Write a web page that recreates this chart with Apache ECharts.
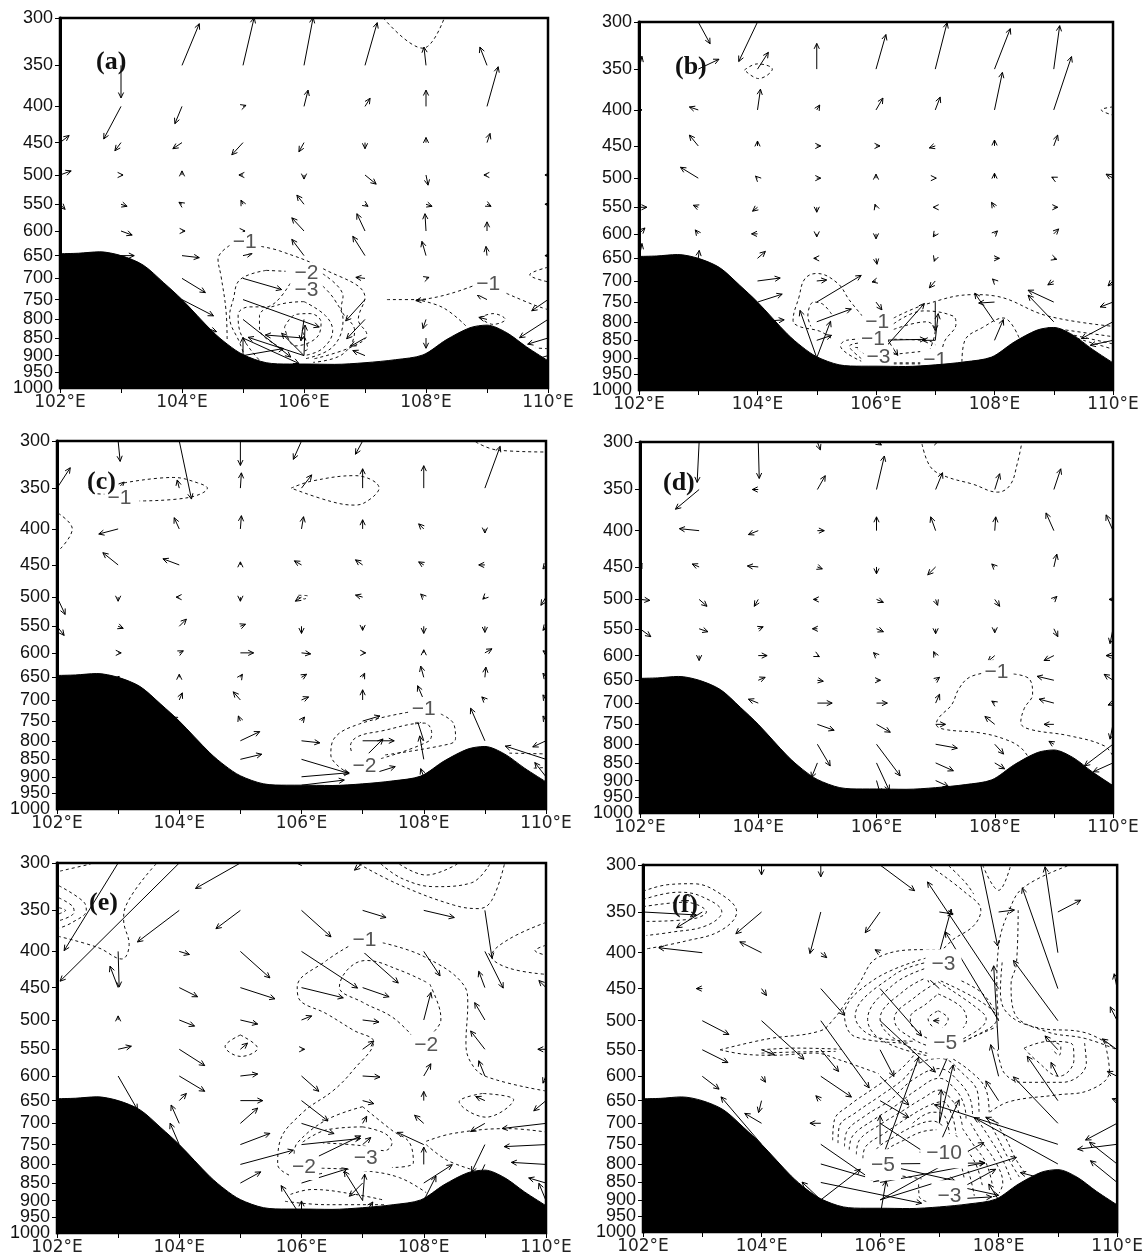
<!DOCTYPE html>
<html><head><meta charset="utf-8">
<style>html,body{margin:0;padding:0;background:#fff}#c{width:1146px;height:1256px}</style>
<script src="https://cdn.jsdelivr.net/npm/echarts@6/dist/echarts.min.js"></script>
</head><body><div id="c"></div>
<script>
const pressureTicks=[300,350,400,450,500,550,600,650,700,750,800,850,900,950,1000];
const bottomPressureLabel=[1000];
const lonLabels=[102,104,106,108,110];
const panelTags=['(a)','(b)','(c)','(d)','(e)','(f)'];
const terrain=[[102,646],[102.3,645],[102.65,642],[103,650],[103.36,670],[103.7,710],[104,750],[104.5,832],[104.75,868],[105,897],[105.38,921],[105.76,925],[106,925],[106.5,926],[107,921],[107.5,912],[107.95,898],[108.33,855],[108.72,822],[109,815],[109.32,835],[109.65,875],[110,915]];

const windA=[[102,450,9,7],[102,500,11,4],[102,550,5,-5],
[103,350,0,-32],[103,400,-17,-32],[103,450,-6,-8],[103,500,2,0],[103,550,6,-2],[103,600,11,-4],[103,650,13,0],
[104,350,17,41],[104,400,-7,-17],[104,450,-9,-6],[104,500,0,4],[104,550,-3,2],[104,600,3,0],[104,650,17,-2],[104,700,23,-14],[104,750,31,-16],[104,800,34,-12],
[105,350,11,47],[105,400,3,1],[105,450,-11,-12],[105,500,-4,0],[105,550,-2,4],[105,600,2,0],[105,650,9,2],[105,700,38,-11],[105,750,75,-27],[105,800,47,-37],[105,850,55,-25],[105,900,40,7],[105,900,0,18],
[106,350,9,47],[106,400,4,16],[106,450,-5,-9],[106,500,0,-4],[106,550,-7,9],[106,600,-12,13],[106,650,-12,16],[106,700,-3,1],[106,800,-3,-21],[106,850,-38,3],[106,900,-55,18],[106,900,-22,22],[106,900,1,30],
[107,350,12,42],[107,400,5,8],[107,450,0,-6],[107,500,11,-9],[107,550,3,-2],[107,600,-8,17],[107,650,-12,19],[107,700,-9,1],[107,750,-19,-21],[107,800,-18,-19],[107,850,-14,-8],[107,900,-12,5],
[108,350,-2,18],[108,400,0,16],[108,450,0,5],[108,500,2,-10],[108,550,6,-2],[108,600,-1,17],[108,650,-4,14],[108,700,3,1],[108,750,-10,-1],[108,800,-3,-9],[108,850,0,-10],
[109,350,-7,18],[109,400,11,39],[109,450,3,9],[109,500,-3,0],[109,550,4,-2],[109,600,0,9],[109,650,-1,9],[109,700,0,1],[109,750,-10,5],[109,800,-8,2],
[110,500,-3,0],[110,550,-3,0],[110,650,-3,0],[110,750,-16,-11],[110,800,-28,-18],[110,850,-20,-6],[110,900,-20,-6]];
const contoursA=[
[[104.78,629],[104.59,657],[104.64,695],[104.72,775],[104.74,855]],
[[105.3,631],[105.6,640],[106.31,678],[107,745],[106.89,800],[107.03,840],[106.78,875],[106.15,910]],
[[105.38,682],[104.95,703],[104.84,750],[104.78,792],[104.95,865],[105.03,902]],
[[105.38,682],[105.7,684]],
[[106.31,690],[106.64,742],[106.61,770],[106.83,830],[106.64,895],[106.15,920]],
[[105.77,712],[105.38,768],[105.1,768],[104.92,788],[104.95,832],[105.33,925]],
[[106.31,718],[106.5,750],[106.64,800],[106.47,875],[106,910]],
[[106,755],[105.6,762],[105.27,790],[105.27,825],[105.55,870]],
[[106,755],[106.35,790],[106.47,830],[106.3,880],[106,900]],
[[105.68,820],[105.87,787],[106.1,785],[106.28,808],[106.2,850],[105.85,872],[105.68,820]],
[[105.98,834],[106.06,880],[105.96,888]],
[[107.36,750],[107.84,750],[108.83,714]],
[[109.32,735],[109.75,762],[110,775]],
[[107.84,750],[108.28,770],[108.66,818]],
[[108.88,795],[109.1,785],[109.3,800],[109.1,813],[108.88,795]],
[[110,675],[109.7,692],[110,708]],
[[110,880],[109.8,878]],
[[107.3,300],[107.95,331],[108.3,300]]];
const labelsA=[[105.03,623,'−1'],[106.04,688,'−2'],[106.04,728,'−3'],[109.02,714,'−1']];

const windB=[[102,350,3,13],[102,400,3,0],[102,550,8,0],[102,600,6,6],[102,650,3,15],
[103,300,12,-22],[103,350,21,10],[103,400,-9,3],[103,450,-9,11],[103,500,-18,11],[103,550,-5,2],[103,600,-3,4],[103,650,1,8],
[104,300,-19,-40],[104,350,11,17],[104,400,3,21],[104,450,0,5],[104,500,-2,2],[104,550,-5,-4],[104,600,-6,0],[104,650,8,7],[104,700,23,3],[104,750,25,8],[104,800,27,2],
[105,350,0,26],[105,400,3,5],[105,450,4,0],[105,500,4,0],[105,550,0,-5],[105,600,0,-3],[105,650,-3,0],[105,700,10,1],[105,750,45,27],[105,800,35,13],[105,850,15,5],[105,900,-17,48],[105,900,14,37],
[106,350,10,35],[106,400,7,12],[106,450,4,0],[106,500,0,4],[106,550,-1,3],[106,600,0,-5],[106,650,1,-6],[106,700,-4,-1],[106,750,6,-8],[106,800,22,-34],[106,850,50,1],[106,900,49,55],
[107,350,12,47],[107,400,5,13],[107,450,-6,-2],[107,500,1,0],[107,550,-2,0],[107,600,-2,-3],[107,650,-1,-3],[107,700,-6,-7],[107,750,0,-29],[107,850,-13,0],[107,850,3,27],
[108,350,16,41],[108,400,8,38],[108,450,0,6],[108,500,0,5],[108,550,-3,5],[108,600,3,3],[108,650,5,0],[108,700,-2,2],[108,750,-16,-1],[108,800,-20,29],[108,850,9,21],
[109,350,6,44],[109,400,18,54],[109,450,4,11],[109,500,-2,1],[109,550,4,0],[109,600,5,5],[109,650,3,-1],[109,700,-6,-4],[109,750,-26,12],[109,800,-26,27],
[110,500,-7,4],[110,700,-5,-5],[110,750,-13,-5],[110,800,-32,-17],[110,850,-23,-5]];
const contoursB=[
[[105.77,785],[105.55,745],[105.35,705],[105,683],[104.8,695],[104.7,738],[104.6,797],[104.7,812],[105.05,825],[105.25,845]],
[[105.25,780],[105.1,755],[104.95,750],[104.85,785],[104.9,812]],
[[106.3,790],[106.85,755],[107.65,732],[108,735],[108.9,785],[110,812]],
[[108.9,815],[110,840]],[[108.95,822],[110,860]],[[109.4,845],[110,875]],
[[106.3,805],[106.8,772],[107.3,785],[107.35,805],[107.15,855],[107.1,905]],
[[106.3,820],[106.85,800],[107,822],[106.9,880]],
[[105.95,845],[105.5,850],[105.4,865],[105.75,910]],
[[105.9,855],[105.55,867],[105.75,902]],
[[106,875],[105.65,870],[105.85,895]],
[[106.3,847],[106.9,852],[107,862]],
[[106.3,890],[106.85,880]],
[[106.3,915],[106.85,915]],[[106.3,918],[106.85,918]],
[[107.45,912],[107.5,850],[107.8,815],[108.15,790],[108.42,845]],
[[103.78,351],[104,344],[104.25,350],[104.02,361],[103.78,351]],
[[110,396],[109.8,400],[110,407]]];
const labelsB=[[106.02,800,'−1'],[105.95,848,'−1'],[106.04,898,'−3'],[107,908,'−1']];

const windC=[[102,350,13,20],[102,500,8,-17],[102,550,7,-9],
[103,300,2,-20],[103,350,6,6],[103,400,-19,-5],[103,450,-15,12],[103,500,0,-4],[103,550,5,-2],[103,600,3,0],[103,650,1,1],
[104,300,12,-57],[104,350,-2,8],[104,400,-5,11],[104,450,-16,6],[104,500,-3,0],[104,550,7,7],[104,600,4,2],[104,650,0,3],[104,700,3,7],[104,750,-7,4],
[105,300,0,-24],[105,350,1,15],[105,400,1,13],[105,450,0,3],[105,500,0,-4],[105,550,5,2],[105,600,13,0],[105,650,2,3],[105,700,-7,8],[105,750,-2,5],[105,800,19,9],[105,850,21,5],
[106,300,-8,-18],[106,350,10,13],[106,400,2,12],[106,450,-7,4],[106,500,-6,-4],[106,550,0,-7],[106,600,9,-1],[106,650,5,3],[106,700,7,3],[106,750,3,4],[106,800,18,-2],[106,850,47,-14],[106,900,47,4],[106,925,42,5],
[107,300,-7,-13],[107,350,0,19],[107,400,0,9],[107,450,-7,5],[107,500,-7,2],[107,550,0,-4],[107,600,3,0],[107,650,2,4],[107,700,0,10],[107,750,17,5],[107,800,31,0],[107,850,20,20],[107,900,32,10],
[108,350,0,22],[108,400,-5,5],[108,450,-5,3],[108,500,-3,3],[108,550,0,-7],[108,600,0,3],[108,650,-3,11],[108,700,-6,14],[108,800,-7,22],[108,850,-4,23],[108,900,-3,8],
[109,350,15,41],[109,400,0,-4],[109,450,-6,0],[109,500,-2,-2],[109,550,0,-6],[109,600,7,4],[109,650,1,10],[109,700,-3,3],[109,800,-14,32],
[110,450,-3,-4],[110,500,-5,-8],[110,550,-3,-4],[110,600,-3,2],[110,650,-3,4],[110,700,-3,5],[110,750,-3,5],[110,800,-13,-6],[110,850,-40,13],[110,900,-11,14]];
const contoursC=[
[[103.1,344],[103.9,338],[104.3,344],[104.46,350],[104.15,361],[103.35,365]],
[[102.52,349],[102.6,356],[102.8,357]],
[[105.83,350],[106.17,342],[106.88,336],[107.27,350],[107.12,363],[106.88,370],[106.5,366],[105.83,350]],
[[102.02,380],[102.25,400],[102.02,430]],
[[108.85,301],[109.2,309],[110,311]],
[[105.95,497],[106.1,498],[106.05,503],[105.95,500]],
[[106.77,890],[106.48,838],[106.53,795],[106.95,757],[107.77,728]],
[[108.28,733],[108.49,757],[108.52,794],[108.43,808],[107.36,838]],
[[107.3,848],[108.07,802],[108.13,780],[108.01,755],[107.3,775],[106.91,790],[106.8,815],[106.83,835]],
[[109.4,833],[110,835]],[[109.8,875],[110,873]]];
const labelsC=[[103.02,362,'−1'],[108,722,'−1'],[107.03,868,'−2']];

const windD=[[102,450,2,4],[102,500,10,-1],[102,550,11,-8],
[103,300,-2,-41],[103,350,-24,-20],[103,400,-20,2],[103,450,-7,3],[103,500,8,-7],[103,550,9,-3],[103,600,0,-5],
[104,300,1,-37],[104,350,-6,0],[104,400,-10,-4],[104,450,-11,1],[104,500,-4,-7],[104,550,5,2],[104,600,9,0],[104,650,7,3],[104,700,-10,4],
[105,300,3,-8],[105,350,8,14],[105,400,7,0],[105,450,5,-2],[105,500,-4,0],[105,550,-5,0],[105,600,2,-1],[105,650,6,-1],[105,700,15,0],[105,750,17,-6],[105,800,13,-22],[105,850,-6,-15],
[106,300,5,-3],[106,350,8,34],[106,400,0,14],[106,450,0,-7],[106,500,7,-3],[106,550,7,-3],[106,600,-3,3],[106,650,4,0],[106,700,11,0],[106,750,14,-8],[106,800,24,-32],[106,850,13,-28],[106,900,4,-14],
[107,300,3,1],[107,350,7,17],[107,400,-5,14],[107,450,-8,-8],[107,500,2,-6],[107,550,0,-5],[107,600,-2,4],[107,650,4,3],[107,700,4,9],[107,750,10,0],[107,800,22,-4],[107,850,18,-8],[107,900,13,-6],
[108,350,5,16],[108,400,1,14],[108,450,-3,3],[108,500,5,-7],[108,550,0,-4],[108,600,-7,-6],[108,650,-3,1],[108,700,-3,2],[108,750,-10,8],[108,800,9,-10],[108,850,10,-6],
[109,350,7,21],[109,400,-8,18],[109,450,3,13],[109,500,3,3],[109,550,4,-8],[109,600,-10,-5],[109,650,-17,4],[109,700,-15,4],[109,750,-10,0],[109,800,-5,3],
[110,400,-7,16],[110,500,-4,0],[110,550,-3,-15],[110,600,-7,0],[110,650,-9,6],[110,700,-5,-2],[110,750,-3,-15],[110,800,-29,-22],[110,850,-20,-9]];
const contoursD=[
[[106.77,302],[106.91,325],[107.15,335],[107.63,344],[108.05,353],[108.26,345],[108.38,322],[108.46,300]],
[[107.87,634],[107.57,644],[107.39,669],[107.27,704],[107.06,733],[107.01,750],[107.14,762],[107.75,771],[108.17,787],[108.44,809],[108.59,840]],
[[108.32,637],[108.59,648],[108.64,680],[108.5,712],[108.44,746],[108.59,762],[109.25,778],[109.85,804],[110,832]]];
const labelsD=[[108.03,634,'−1']];

const windE=[[103,300,-53,-86],[103,400,1,-35],[103,450,-8,21],[103,500,0,4],[103,550,13,3],[103,600,19,-33],
[104,300,-117,-116],[104,350,-41,-31],[104,400,10,-3],[104,450,18,-9],[104,500,15,-6],[104,550,25,-16],[104,600,25,-15],[104,650,7,7],[104,700,-8,18],[104,750,-9,21],
[105,300,-44,-25],[105,350,-24,-18],[105,400,29,-26],[105,450,34,-11],[105,500,17,-4],[105,550,7,6],[105,600,17,2],[105,650,22,0],[105,700,17,15],[105,750,29,11],[105,800,52,14],[105,850,20,11],
[106,300,-5,0],[106,350,29,-26],[106,400,55,-36],[106,450,41,-10],[106,500,10,4],[106,550,3,0],[106,600,17,-15],[106,650,26,-20],[106,700,32,-10],[106,750,58,6],[106,800,58,28],[106,850,45,14],[106,950,-20,31],[106,950,0,16],
[107,300,-8,-7],[107,350,23,-7],[107,400,35,-31],[107,450,26,-9],[107,500,16,-2],[107,550,11,8],[107,600,17,-1],[107,650,11,-3],[107,700,4,7],[107,750,8,7],[107,850,-13,-13],[107,900,-18,29],[107,900,2,26],[107,950,10,15],
[108,350,30,-7],[108,400,16,-24],[108,500,7,27],[108,600,7,12],[108,650,0,9],[108,700,-9,8],[108,750,-26,12],[108,800,0,17],[108,850,28,18],[108,900,12,24],
[109,350,7,-47],[109,400,18,-36],[109,450,-6,16],[109,500,-10,17],[109,550,-14,18],[109,600,-6,15],[109,650,-9,4],[109,700,-14,-8],[109,750,-13,-27],[109,800,-6,-13],
[110,450,-7,7],[110,550,-8,0],[110,600,-3,-7],[110,650,-12,-10],[110,700,-43,-5],[110,750,-41,-2],[110,800,-34,2],[110,850,-17,5],[110,900,-7,17]];
const contoursE=[
[[102.05,308],[102.55,301]],
[[102.03,323],[102.43,340],[102.48,350],[102.25,364],[102.03,371]],
[[102.03,336],[102.25,345],[102.28,352],[102.03,362]],
[[102.03,347],[102.14,350],[102.03,354]],
[[103.62,301],[103.12,346],[103.09,361],[103.18,391],[103.06,410],[102.67,395],[102.03,381]],
[[106.94,301],[107.6,322],[108.49,344],[108.9,348],[109.11,339],[109.32,301]],
[[107.3,301],[107.66,316],[108.19,324],[108.78,320],[109.08,301]],
[[107.6,301],[108.04,312],[108.55,301]],
[[110,364],[109.38,385],[109.11,406],[109.38,422],[110,431]],
[[110,392],[109.82,399],[110,405]],
[[106.85,390],[106.41,412],[105.93,449],[105.96,467],[106.41,490],[106.85,517],[107.18,537],[106.85,588],[106.53,628],[106,678],[105.64,746],[105.61,800],[105.99,841]],
[[107.33,389],[108.01,407],[108.66,447],[108.72,474],[108.69,540],[108.78,576],[109.02,601],[110,630]],
[[108.04,442],[107.6,425],[107.06,412],[106.77,423],[106.62,449],[107,472],[107.48,495],[107.8,525]],
[[108.1,445],[108.25,479],[108.28,500],[108.16,520]],
[[105,525],[104.75,545],[105.01,563],[105.28,548],[105,525]],
[[108.96,635],[108.58,652],[109.02,686],[109.47,648],[108.96,635]],
[[107,663],[106.41,692],[105.93,746],[105.88,773]],
[[107,663],[107.48,716],[107.77,746],[107.83,796],[107.48,808]],
[[107,708],[106.41,715],[106,746]],
[[107,708],[107.36,723],[107.48,746],[107.36,765],[107,753],[106.35,746]],
[[106.33,810],[107,816],[107.6,835],[108.04,877]],
[[106,836],[106.35,823]],
[[105.82,882],[106.17,868],[106.88,882],[107.36,899]],
[[105.73,902],[106.41,912],[107.36,912]],
[[108.04,742],[108.49,723],[109.38,712],[110,720]],
[[108.04,750],[108.37,788],[108.78,813]]];
const labelsE=[[107.03,386,'−1'],[108.04,543,'−2'],[106.04,808,'−2'],[107.05,785,'−3']];

const windF=[[102,350,54,-3],
[103,350,-26,-16],[103,400,-44,5],[103,450,-6,0],[103,500,27,-14],[103,550,26,-13],[103,600,17,-13],
[104,300,0,-10],[104,350,-26,-22],[104,400,-22,11],[104,450,5,-7],[104,500,43,-39],[104,550,13,-5],[104,600,4,-6],[104,650,-3,-12],[104,700,-17,10],[104,750,-41,48],
[105,300,0,-12],[105,350,-11,-42],[105,400,6,-5],[105,450,24,-27],[105,500,49,-68],[105,550,18,-22],[105,600,31,-21],[105,650,-5,5],[105,700,-11,0],[105,750,52,-36],[105,800,59,-17],[105,850,102,-21],[105,900,40,31],[105,900,-19,18],
[106,300,35,-26],[106,350,-15,-21],[106,400,-5,3],[106,450,42,-48],[106,500,56,-52],[106,550,14,-27],[106,600,29,-29],[106,650,29,-17],[106,700,46,-30],[106,750,0,29],[106,800,39,108],[106,800,76,-17],[106,800,106,1],[106,850,106,20],[106,900,138,43],[106,900,105,58],[106,950,6,36],
[107,350,14,-2],[107,400,12,44],[107,450,-13,12],[107,500,-6,0],[107,600,13,30],[107,700,14,59],[107,700,2,34],[107,750,20,45],[107,900,57,31],[107,900,53,3],[107,850,60,-13],
[107.7,300,17,-82],[108,350,16,2],[108,450,-72,108],[108,500,-54,90],[108,550,-5,85],[108,600,-8,32],[108,650,-13,20],[108,700,-13,6],[108,900,-10,16],
[109,350,23,12],[109,400,-13,87],[109,450,-36,102],[109,500,-45,61],[109,550,-13,14],[109,600,-7,14],[109,650,-31,45],[109,700,-45,47],[109,750,-125,40],[109,800,-85,47],[109,850,-38,10],
[110,450,-3,15],[110,500,-7,14],[110,550,-15,11],[110,600,-10,5],[110,650,-5,2],[110,700,-32,-17],[110,750,-40,-5],[110,800,-28,22],[110,850,-27,22]];
const contoursF=[
[[102,327],[102.42,320],[102.84,319],[103.31,330],[103.58,350],[103.31,372],[102.72,385],[102.06,395]],
[[102,336],[102.6,328],[103,333],[103.33,350],[103.07,366],[102.48,374],[102.06,378]],
[[102,344],[102.72,339],[103.07,350],[102.84,358],[102.06,361]],
[[103.3,550],[104.09,531],[104.99,517],[105.22,497],[105.37,478],[105.64,443],[105.97,406],[106.78,396],[106.99,396],[107.25,382],[107.58,366],[107.7,348],[107.43,328],[106.84,301]],
[[107.16,301],[107.43,317],[107.58,330]],
[[107.73,300],[108,326],[108.2,301]],
[[109.16,301],[108.42,323],[108.18,348],[108,392],[107.97,446],[108,500]],
[[108.33,348],[108.3,415],[108.21,443],[108.27,488],[108.8,518],[109.46,530],[110,550]],
[[108.06,413],[108.03,453],[108.15,488],[108.63,511],[109.46,520],[109.94,546]],
[[106.98,484],[107.15,497],[106.98,515],[106.81,497],[106.98,484]],
[[106.98,458],[107.37,478],[107.46,499],[107.25,524],[106.98,534],[106.54,509],[106.51,495],[106.78,473],[106.98,458]],
[[106.98,440],[107.61,478],[107.79,497],[107.43,529],[106.98,545],[106.36,518],[106.24,497],[106.6,462],[106.98,440]],
[[106.84,432],[107.67,468],[107.97,496],[107.43,535],[106.98,558],[106.24,530],[106,497],[106.42,452],[106.84,432]],
[[106.81,420],[107.67,453],[107.97,490]],
[[107.4,535],[107.97,510]],
[[106.98,565],[106.06,535],[105.79,498],[106.24,443],[106.81,420]],
[[106.84,412],[106.24,430],[105.58,493],[105.88,526],[106.6,535]],
[[106.78,407],[105.88,438],[105.4,491],[105.58,527],[106.48,538]],
[[103.3,550],[103.7,558],[104.2,560],[104.9,556],[105.3,568],[105.98,595]],
[[104,550],[104.6,547],[105.34,549]],
[[104,556],[104.6,554],[105.25,553]],
[[108.43,547],[108.85,535],[109.25,541],[109.27,569],[109.02,600],[108.63,569],[108.43,547]],
[[108.88,535],[109.05,544],[109.02,560],[108.9,549]],
[[109.45,538],[109.48,575],[109.08,612],[108.4,612],[108.12,597],[108.01,568],[107.98,550]],
[[109.78,531],[109.87,590],[109.53,628],[108.97,638],[108.18,652],[107.84,676]],
[[105.2,740],[105.23,692],[105.48,660],[105.88,625],[106.33,588],[106.6,556]],
[[107.06,556],[107.5,588],[107.79,628],[107.84,675]],
[[105.29,747],[105.31,708],[105.6,675],[106,640],[106.38,607],[106.66,575],[107.03,566],[107.39,594],[107.65,635],[107.67,679]],
[[105.4,755],[105.43,722],[105.76,682],[106.16,650],[106.55,607],[107,585],[107.34,612],[107.53,650],[107.56,682]],
[[105.48,763],[105.54,729],[105.88,693],[106.27,660],[106.61,628],[107,604],[107.28,628],[107.42,660],[107.45,689]],
[[105.6,775],[105.65,740],[106,703],[106.38,672],[106.72,645],[107,628],[107.22,650],[107.34,679],[107.39,708]],
[[105.71,785],[105.76,755],[106.1,721],[106.49,685],[106.83,660],[107.06,652],[107.22,685],[107.28,725]],
[[106.55,700],[106.89,675],[107.08,682],[107.17,725]],
[[105.85,790],[105.95,760],[106.2,735],[106.6,705],[106.9,695],[107.05,705]],
[[106,790],[106.1,765],[106.4,740],[106.7,720],[106.95,715]],
[[107.79,685],[107.98,733],[108.18,790],[108.35,835]],
[[107.9,690],[108.1,730],[108.3,790],[108.45,825]],
[[107.65,693],[107.84,733],[108.07,790],[108.21,843]],
[[107.53,700],[107.7,740],[107.96,798],[108.07,852],[108.01,880]],
[[107.39,712],[107.56,748],[107.79,798],[107.9,862]],
[[107.28,728],[107.42,755],[107.62,802],[107.73,862]],
[[107.15,745],[107.33,785],[107.42,840]],
[[107.05,735],[107.25,770],[107.45,810]],
[[107.39,790],[107.5,825],[107.59,888]],
[[106.65,855],[106.66,890],[106.78,905]],
[[106.28,830],[106.7,840]]];
const labelsF=[[107.07,416,'−3'],[107.1,538,'−5'],[106.05,802,'−5'],[107.08,771,'−10'],[107.17,888,'−3']];

const panels=[
 {w:windA,c:contoursA,l:labelsA,box:[60,18,488,370],tag:[96,49],pad:[0,3]},
 {w:windB,c:contoursB,l:labelsB,box:[639,22,474,368],tag:[675,54],pad:[1,3]},
 {w:windC,c:contoursC,l:labelsC,box:[57,441,489,368],tag:[87,469],pad:[2,3]},
 {w:windD,c:contoursD,l:labelsD,box:[640,442,473,371],tag:[663,470],pad:[2,3]},
 {w:windE,c:contoursE,l:labelsE,box:[57,863,489,372],tag:[89,890],pad:[2,3]},
 {w:windF,c:contoursF,l:labelsF,box:[643,865,475,367],tag:[672,892],pad:[5,6]}];

const fnt='"Liberation Sans",Arial,sans-serif';
function arrowItem(params,api){
  const s=api.coord([api.value(0),api.value(1)]);
  const k=api.size([1,0])[0]/60;
  const e=[s[0]+api.value(2)*k,s[1]-api.value(3)*k];
  const a=Math.atan2(e[1]-s[1],e[0]-s[0]),h=6,w=0.45;
  return {type:'group',children:[
    {type:'line',shape:{x1:s[0],y1:s[1],x2:e[0],y2:e[1]},style:{stroke:'#000',lineWidth:1}},
    {type:'polyline',shape:{points:[[e[0]-h*Math.cos(a-w),e[1]-h*Math.sin(a-w)],e,[e[0]-h*Math.cos(a+w),e[1]-h*Math.sin(a+w)]]},style:{stroke:'#000',lineWidth:1,fill:'none'}}
  ]};
}
const grid=[],xAxis=[],yAxis=[],series=[],graphic=[];
panels.forEach((p,i)=>{
  const yi=2*i;
  grid.push({left:p.box[0],top:p.box[1],width:p.box[2],height:p.box[3],show:true,borderColor:'#000',borderWidth:2.5,backgroundColor:'#fff'});
  xAxis.push({gridIndex:i,type:'value',min:102,max:110,interval:1,splitLine:{show:false},
    axisLine:{show:true,onZero:false,lineStyle:{color:'#000',width:2}},
    axisTick:{show:true,length:5,inside:false,lineStyle:{color:'#000',width:1}},
    axisLabel:{show:true,margin:6,color:'#222',fontFamily:'"DejaVu Sans",sans-serif',fontSize:17,showMinLabel:true,showMaxLabel:true,hideOverlap:false,
      formatter:v=>lonLabels.includes(v)?v+'°E':''}});
  yAxis.push({gridIndex:i,type:'log',logBase:10,min:300,max:1000,inverse:true,splitLine:{show:false},minorTick:{show:false},
    axisLine:{show:true,onZero:false,lineStyle:{color:'#000',width:3}},
    axisTick:{show:true,length:5,customValues:pressureTicks,lineStyle:{color:'#000',width:1}},
    axisLabel:{show:true,margin:7,color:'#111',fontFamily:fnt,fontSize:18,customValues:pressureTicks,hideOverlap:false,formatter:v=>String(Math.round(v))}});
  yAxis.push({gridIndex:i,type:'log',logBase:10,min:300,max:1000,inverse:true,position:'left',offset:0,splitLine:{show:false},minorTick:{show:false},
    axisLine:{show:false,onZero:false},axisTick:{show:false},
    axisLabel:{show:true,margin:7,color:'#111',fontFamily:fnt,fontSize:18,customValues:bottomPressureLabel,hideOverlap:false,showMaxLabel:true,formatter:v=>String(Math.round(v))}});
  p.c.forEach(line=>series.push({type:'line',xAxisIndex:i,yAxisIndex:yi,data:line,smooth:0.4,showSymbol:false,symbol:'none',z:2,silent:true,clip:true,
    lineStyle:{color:'#111',width:1,type:[3,3]}}));
  series.push({type:'custom',xAxisIndex:i,yAxisIndex:yi,data:p.w,renderItem:arrowItem,clip:true,z:3,silent:true,encode:{x:0,y:1}});
  series.push({type:'scatter',xAxisIndex:i,yAxisIndex:yi,data:p.l,symbolSize:1,z:4,silent:true,itemStyle:{opacity:1,color:'#fff'},
    label:{show:true,position:'inside',opacity:1,formatter:o=>o.value[2],color:'#555',fontFamily:fnt,fontSize:21,backgroundColor:'#fff',padding:p.pad}});
  series.push({type:'line',xAxisIndex:i,yAxisIndex:yi,data:terrain,smooth:0.3,showSymbol:false,symbol:'none',z:5,silent:true,
    lineStyle:{color:'#000',width:1},areaStyle:{color:'#000',opacity:1,origin:'end'}});
  graphic.push({type:'text',left:p.tag[0],top:p.tag[1],z:20,style:{text:panelTags[i],font:'bold 26px "Liberation Serif",serif',fill:'#111'}});
});
const chart=echarts.init(document.getElementById('c'),null,{renderer:'canvas'});
chart.setOption({animation:false,backgroundColor:'#fff',grid,xAxis,yAxis,series,graphic});
</script></body></html>
